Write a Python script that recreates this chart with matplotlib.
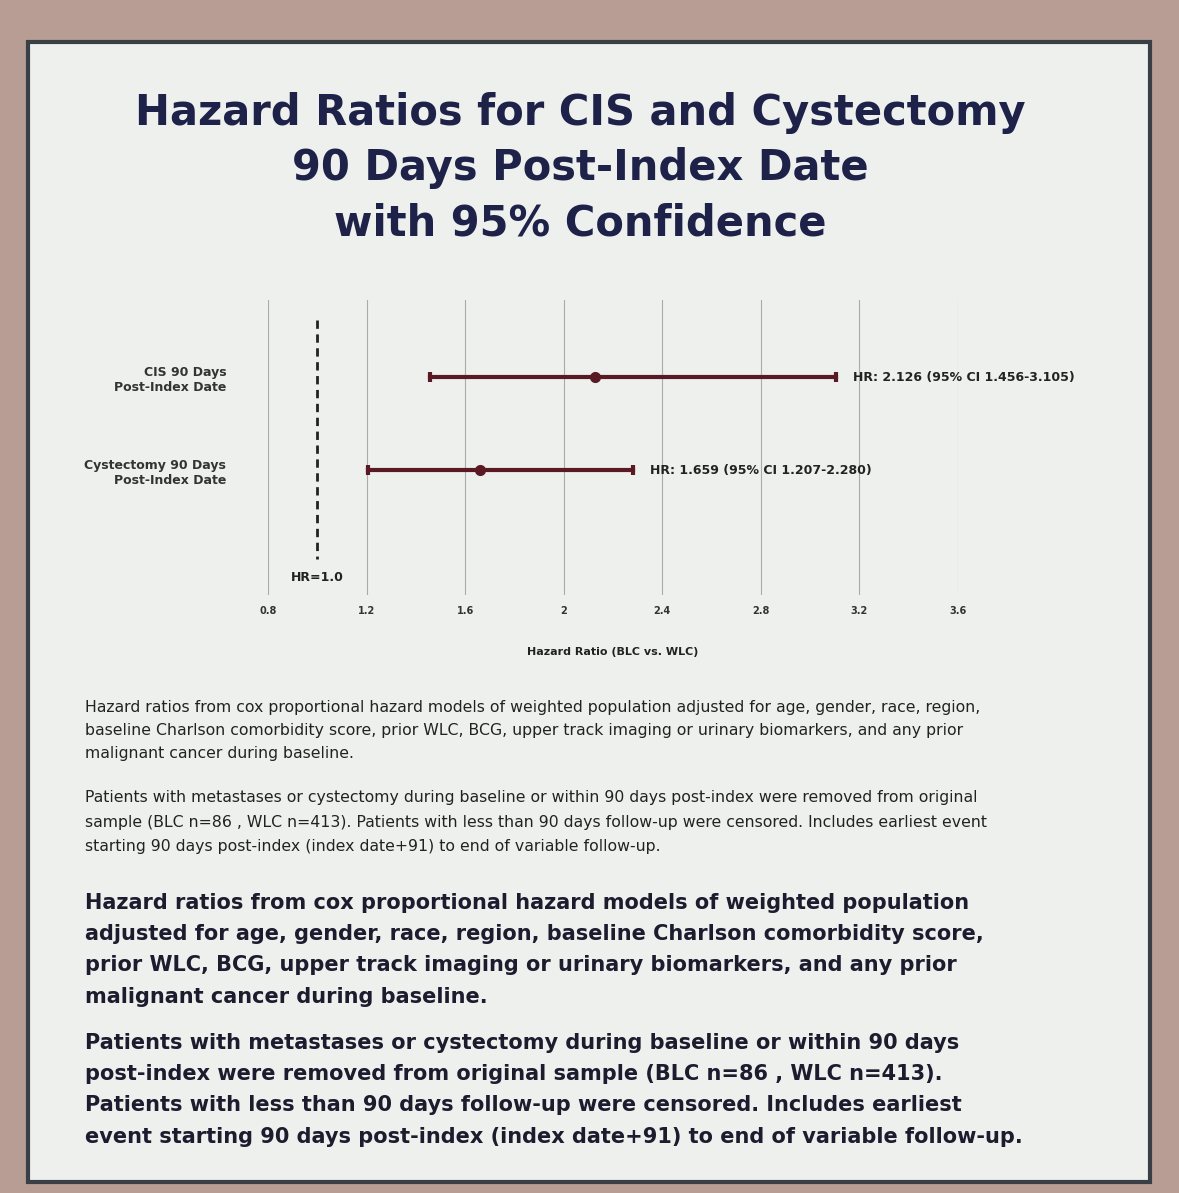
import matplotlib.pyplot as plt
from matplotlib.patches import Rectangle

labels = ['CIS 90 Days\nPost-Index Date', 'Cystectomy 90 Days\nPost-Index Date']
hr = [2.126, 1.659]
ci_low = [1.456, 1.207]
ci_high = [3.105, 2.280]
ticks = [0.8, 1.2, 1.6, 2, 2.4, 2.8, 3.2, 3.6]
tick_labels = ['0.8', '1.2', '1.6', '2', '2.4', '2.8', '3.2', '3.6']

W, H = 1179, 1193
fig = plt.figure(figsize=(W / 100, H / 100), dpi=100)
fig.patch.set_facecolor('#b79d93')
fig.patches.append(Rectangle((28 / W, 1 - 1182 / H), 1122 / W, 1140 / H, transform=fig.transFigure,
                             facecolor='#eef0ee', edgecolor='#3a3f45', lw=3, zorder=-5))

navy = '#1e2148'
title = 'Hazard Ratios for CIS and Cystectomy\n90 Days Post-Index Date\nwith 95% Confidence'
fig.text(580 / W, 1 - 168 / H, title, ha='center', va='center', fontsize=30, fontweight='heavy',
         color=navy, linespacing=1.4, family='DejaVu Sans')

ax = fig.add_axes([268 / W, 1 - 595 / H, 690 / W, 295 / H])
ax.set_facecolor('none')
for s in ax.spines.values():
    s.set_visible(False)
ax.set_xlim(0.8, 3.6)
ax.set_ylim(2.34, -0.83)
ax.set_xticks(ticks)
ax.set_xticklabels(tick_labels, fontsize=7, fontweight='bold', color='#333')
ax.tick_params(length=0, pad=8)
ax.grid(axis='x', color='#aaa', lw=0.8)
ax.set_yticks([0, 1])
ax.set_yticklabels(labels, fontsize=9, fontweight='bold', color='#333', ha='right')
ax.tick_params(axis='y', pad=30)
for i in range(2):
    ax.plot([ci_low[i], ci_high[i]], [i, i], color='#5a1a24', lw=3)
    ax.plot([ci_low[i], ci_high[i]], [i, i], '|', color='#5a1a24', ms=7, mew=3)
    ax.plot(hr[i], i, 'o', color='#5a1a24', ms=7)
    ax.text(ci_high[i] + 0.07, i, f'HR: {hr[i]:.3f} (95% CI {ci_low[i]:.3f}-{ci_high[i]:.3f})',
            va='center', fontsize=9, fontweight='bold', color='#222')
ax.plot([1.0, 1.0], [-0.62, 1.95], ls=(0, (3, 2)), color='#222', lw=2)
ax.text(1.0, 2.15, 'HR=1.0', ha='center', va='center', fontsize=9, fontweight='bold', color='#222')
ax.set_xlabel('Hazard Ratio (BLC vs. WLC)', fontsize=8, fontweight='bold', color='#222', labelpad=22)

p1 = ('Hazard ratios from cox proportional hazard models of weighted population adjusted for age, gender, race, region,\n'
      'baseline Charlson comorbidity score, prior WLC, BCG, upper track imaging or urinary biomarkers, and any prior\n'
      'malignant cancer during baseline.')
p2 = ('Patients with metastases or cystectomy during baseline or within 90 days post-index were removed from original\n'
      'sample (BLC n=86 , WLC n=413). Patients with less than 90 days follow-up were censored. Includes earliest event\n'
      'starting 90 days post-index (index date+91) to end of variable follow-up.')
fig.text(85 / W, 1 - 700 / H, p1, fontsize=11.3, va='top', color='#222', linespacing=1.67)
fig.text(85 / W, 1 - 790 / H, p2, fontsize=11.3, va='top', color='#222', linespacing=1.8)

b1 = ('Hazard ratios from cox proportional hazard models of weighted population\n'
      'adjusted for age, gender, race, region, baseline Charlson comorbidity score,\n'
      'prior WLC, BCG, upper track imaging or urinary biomarkers, and any prior\n'
      'malignant cancer during baseline.')
b2 = ('Patients with metastases or cystectomy during baseline or within 90 days\n'
      'post-index were removed from original sample (BLC n=86 , WLC n=413).\n'
      'Patients with less than 90 days follow-up were censored. Includes earliest\n'
      'event starting 90 days post-index (index date+91) to end of variable follow-up.')
fig.text(85 / W, 1 - 893 / H, b1, fontsize=15, fontweight='bold', va='top', color='#1b1c2e', linespacing=1.7)
fig.text(85 / W, 1 - 1033 / H, b2, fontsize=15, fontweight='bold', va='top', color='#1b1c2e', linespacing=1.7)

fig.savefig('out.png', dpi=100, facecolor=fig.get_facecolor())
